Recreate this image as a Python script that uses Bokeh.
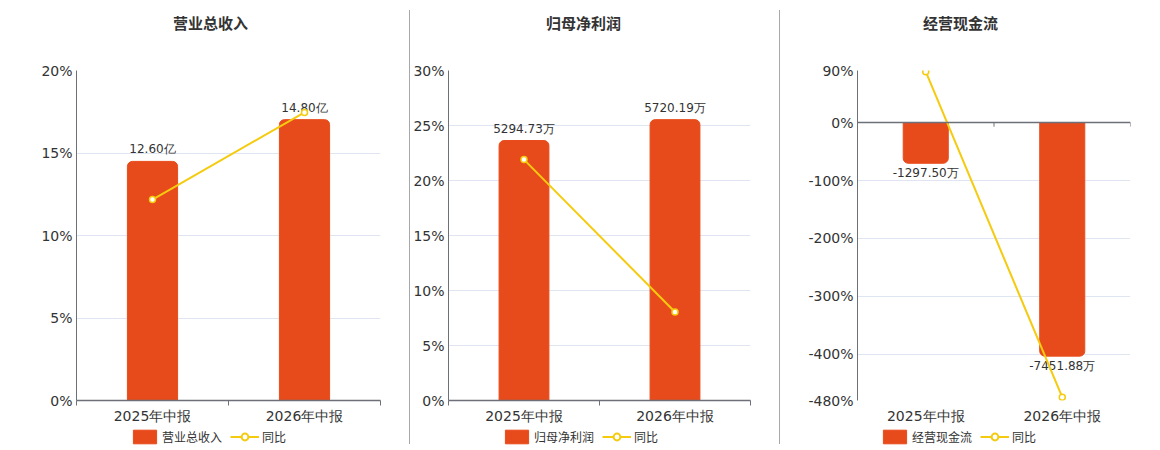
from bokeh.plotting import figure
from bokeh.models import (Range1d, LinearAxis, FixedTicker, CustomJSTickFormatter,
                          PrintfTickFormatter, Span, Legend, LegendItem, ColumnDataSource,
                          Div, Label)
from bokeh.layouts import row, column
from bokeh.embed import file_html
from bokeh.resources import INLINE
from bokeh.core.properties import value

# ---------------- data ----------------
periods = ["2025年中报", "2026年中报"]

revenue_name = "营业总收入"
revenue = [12.60, 14.80]          # 亿
revenue_unit = "亿"
revenue_yoy = [12.18, 17.46]      # %

profit_name = "归母净利润"
profit = [5294.73, 5720.19]       # 万
profit_unit = "万"
profit_yoy = [21.90, 8.04]        # %

cash_name = "经营现金流"
cash = [-1297.50, -7451.88]       # 万
cash_unit = "万"
cash_yoy = [88.0, -474.3]         # %

yoy_name = "同比"

pct_ticks_1 = [0, 5, 10, 15, 20]
pct_ticks_2 = [0, 5, 10, 15, 20, 25, 30]
pct_ticks_3 = [90, 0, -100, -200, -300, -400, -480]

# ---------------- style ----------------
BAR = "#E84B1B"
LINE = "#F4CB0F"
AXIS = "#6E7079"
GRID = "#E0E6F1"
TXT = "#333333"
FONT = "DejaVu Sans"
H_TITLE = 33
H_MAIN = 393
H_LEG = 24
NAN = float("nan")


def strip(width, height):
    s = figure(width=width, height=height, output_backend="svg",
               toolbar_location=None, x_axis_location=None, y_axis_location=None,
               min_border=0, x_range=Range1d(0, 1), y_range=Range1d(0, 1))
    s.outline_line_color = None
    s.grid.visible = False
    return s


def make_panel(name, cats, vals, unit, yoy, pct_ticks, width, left, right,
               legend_x, title_x):
    n = len(cats)
    xc = [i + 0.5 for i in range(n)]          # category centres on a 0..n scale
    lo_p, hi_p = min(pct_ticks), max(pct_ticks)
    negative = min(vals) < 0
    if negative:
        lo_a = min(vals) * 1.19
        hi_a = lo_a * hi_p / lo_p
    else:
        lo_a = 0
        hi_a = max(vals) * 1.175

    # title strip
    ts = strip(width, H_TITLE)
    ts.add_layout(Label(x=title_x, y=11, x_units="screen", y_units="screen",
                        text=name, text_align="center", text_baseline="middle",
                        text_font_size="15px", text_font_style="bold",
                        text_color=TXT, text_font="Noto Sans CJK SC"))

    p = figure(x_range=Range1d(0, n), y_range=Range1d(lo_p, hi_p), width=width,
               height=H_MAIN, output_backend="svg", toolbar_location=None,
               x_axis_location=None,
               min_border_left=left, min_border_right=right, min_border_top=37,
               min_border_bottom=21)
    p.extra_y_ranges = {"amt": Range1d(lo_a, hi_a)}
    p.outline_line_color = None
    p.background_fill_color = "white"
    p.border_fill_color = "white"

    # grid
    p.xgrid.visible = False
    p.ygrid.grid_line_color = GRID
    p.ygrid.ticker = FixedTicker(ticks=pct_ticks)

    # left axis
    ya = p.yaxis[0]
    ya.ticker = FixedTicker(ticks=pct_ticks)
    ya.formatter = PrintfTickFormatter(format="%d%%")
    ya.major_tick_out = 0
    ya.major_tick_in = 0
    ya.minor_tick_out = 0
    ya.minor_tick_in = 0
    ya.axis_line_color = AXIS
    ya.major_label_text_font_size = "14px"
    ya.major_label_text_color = TXT
    ya.major_label_text_font = FONT
    ya.major_label_standoff = 4

    # bottom axis (labels at category centres, ticks at boundaries)
    xa = LinearAxis(ticker=FixedTicker(ticks=xc, minor_ticks=list(range(n + 1))),
                    formatter=CustomJSTickFormatter(args=dict(cats=cats),
                                                    code="return cats[Math.floor(tick)];"))
    xa.major_tick_out = 0
    xa.major_tick_in = 0
    xa.minor_tick_in = 0
    xa.minor_tick_out = 5
    xa.major_label_text_font_size = "14px"
    xa.major_label_text_color = TXT
    xa.major_label_text_font = FONT
    xa.major_label_standoff = 2
    if negative:
        xa.axis_line_color = None
        xa.minor_tick_line_color = None
    else:
        xa.axis_line_color = AXIS
        xa.axis_line_width = 1.5
        xa.minor_tick_line_color = AXIS
    p.add_layout(xa, "below")

    # bars
    src = ColumnDataSource(dict(
        x=xc,
        top=[max(v, 0) for v in vals],
        bottom=[min(v, 0) for v in vals],
        val=vals,
        label=[f"{v:.2f}{unit}" for v in vals],
    ))
    radius = (0, 0, 5, 5) if negative else (5, 5, 0, 0)
    p.vbar(x="x", top="top", bottom="bottom", width=0.33, source=src,
           y_range_name="amt", fill_color=BAR, line_color=BAR,
           border_radius=radius)

    if negative:
        p.add_layout(Span(location=0, dimension="width", line_color=AXIS,
                          line_width=1.5))
        b = list(range(n + 1))
        p.segment(x0=b, x1=b, y0=[0] * len(b), y1=[-7] * len(b),
                  line_color=AXIS, line_width=1)

    p.text(x="x", y="val", text="label", source=src, y_range_name="amt",
           text_align="center", text_baseline="top" if negative else "bottom",
           y_offset=3 if negative else -5, text_font_size="12px",
           text_color=TXT, text_font=value(FONT))

    # yoy line
    p.line(x=xc, y=yoy, line_color=LINE, line_width=2)
    p.scatter(x=xc, y=yoy, size=6, fill_color="white", line_color=LINE,
              line_width=1.5)

    # legend strip (separate small canvas under the chart; keys only)
    lg = strip(width, H_LEG)
    kb = lg.vbar(x=[NAN], top=[NAN], width=0.1, fill_color=BAR, line_color=BAR,
                 border_radius=3)
    kl = lg.line(x=[NAN], y=[NAN], line_color=LINE, line_width=2)
    km = lg.scatter(x=[NAN], y=[NAN], size=10, fill_color="white",
                    line_color=LINE, line_width=2)
    legend = Legend(items=[LegendItem(label=name, renderers=[kb]),
                           LegendItem(label=yoy_name, renderers=[kl, km])],
                    location=(legend_x, 5), orientation="horizontal",
                    glyph_width=29, glyph_height=17, label_standoff=3, spacing=8,
                    padding=0, margin=0, border_line_color=None,
                    background_fill_alpha=0, label_text_font_size="12px",
                    label_text_color=TXT, label_height=17,
                    label_text_font="Noto Sans CJK SC")
    lg.add_layout(legend, "center")
    return column(ts, p, lg, spacing=0)


c1 = make_panel(revenue_name, periods, revenue, revenue_unit, revenue_yoy,
                pct_ticks_1, 409, 76, 29, 54, 134)
c2 = make_panel(profit_name, periods, profit, profit_unit, profit_yoy,
                pct_ticks_2, 369, 36, 29, 54, 135)
c3 = make_panel(cash_name, periods, cash, cash_unit, cash_yoy,
                pct_ticks_3, 380, 77, 30, 23, 103)

sep1 = Div(width=1, height=434, margin=(10, 0, 0, 0),
           styles={"background-color": "#a8a8a8"})
sep2 = Div(width=1, height=434, margin=(10, 0, 0, 0),
           styles={"background-color": "#a8a8a8"})

layout = row(c1, sep1, c2, sep2, c3, spacing=0)

open("out.html", "w").write(file_html(layout, INLINE))
